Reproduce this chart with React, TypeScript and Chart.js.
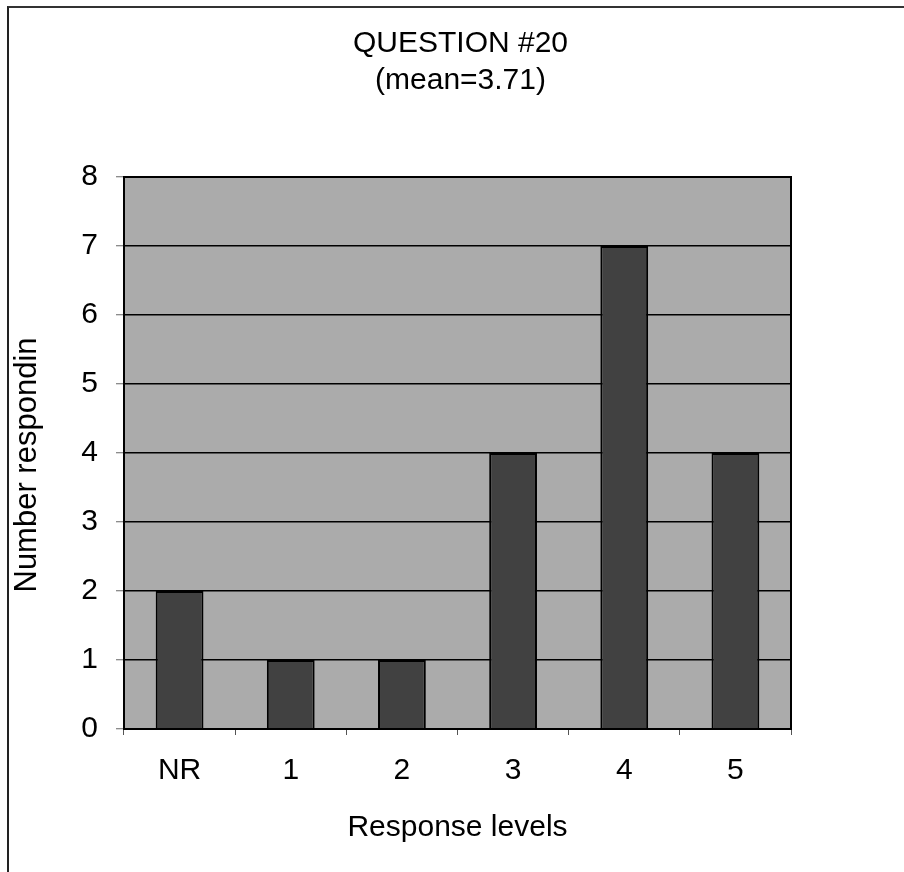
import React, { useEffect, useRef } from "react";
import { Chart, registerables } from "chart.js";

Chart.register(...registerables);

const titleLines = ["QUESTION #20", "(mean=3.71)"];
const categories = ["NR", "1", "2", "3", "4", "5"];
const counts = [2, 1, 1, 4, 7, 4];
const yMin = 0;
const yMax = 8;
const yStep = 1;
const xTitle = "Response levels";
const yTitle = "Number respondin";

const FONT = "Arial, 'Liberation Sans', sans-serif";
const FS = 30;
const PLOT_BG = "#ababab";
const BAR_FILL = "#414141";

const plotDecor = {
  id: "plotDecor",
  beforeDraw(chart: any) {
    const { ctx, chartArea } = chart;
    if (!chartArea) return;
    ctx.save();
    ctx.fillStyle = PLOT_BG;
    ctx.fillRect(chartArea.left, chartArea.top, chartArea.right - chartArea.left, chartArea.bottom - chartArea.top);
    ctx.restore();
  },
  afterDraw(chart: any) {
    const { ctx, chartArea } = chart;
    if (!chartArea) return;
    ctx.save();
    ctx.strokeStyle = "#000";
    ctx.lineWidth = 2;
    ctx.strokeRect(chartArea.left, chartArea.top, chartArea.right - chartArea.left, chartArea.bottom - chartArea.top);
    // chart title, centred over the plot area
    const cx = (chartArea.left + chartArea.right) / 2;
    ctx.fillStyle = "#000";
    ctx.font = `${FS}px ${FONT}`;
    ctx.textAlign = "center";
    ctx.textBaseline = "middle";
    titleLines.forEach((line, i) => {
      ctx.fillText(line, cx + 3, 44 + i * 37);
    });
    // y axis title
    ctx.save();
    ctx.translate(27, (chartArea.top + chartArea.bottom) / 2 + 12);
    ctx.rotate(-Math.PI / 2);
    ctx.font = `${FS + 1}px ${FONT}`;
    ctx.fillText(yTitle, 0, 0);
    ctx.restore();
    ctx.restore();
  },
};

export default function App() {
  const ref = useRef<HTMLCanvasElement | null>(null);

  useEffect(() => {
    if (!ref.current) return;
    const chart = new Chart(ref.current, {
      type: "bar",
      data: {
        labels: categories,
        datasets: [
          {
            data: counts,
            backgroundColor: BAR_FILL,
            borderColor: "#000",
            borderWidth: 2,
            categoryPercentage: 1,
            barPercentage: 0.43,
          },
        ],
      },
      options: {
        animation: false,
        responsive: false,
        maintainAspectRatio: false,
        layout: { padding: { left: 0, right: 113, top: 177, bottom: 26 } },
        plugins: {
          legend: { display: false },
          tooltip: { enabled: false },
          title: { display: false },
        },
        scales: {
          x: {
            grid: {
              display: true,
              offset: true,
              drawOnChartArea: false,
              drawTicks: true,
              tickLength: 6,
              color: "#555",
            },
            border: { display: true, color: "#000", width: 2 },
            ticks: { color: "#000", padding: 18, font: { family: FONT, size: FS } },
            title: {
              display: true,
              text: xTitle,
              color: "#000",
              font: { family: FONT, size: FS },
              padding: { top: 0, bottom: 0 },
            },
            afterFit(scale: any) {
              scale.height = 872 - 26 - 729;
            },
          },
          y: {
            min: yMin,
            max: yMax,
            ticks: { stepSize: yStep, color: "#000", padding: 18, font: { family: FONT, size: FS } },
            grid: {
              color: "#000",
              lineWidth: 1.5,
              drawTicks: true,
              tickLength: 8,
              tickColor: "#666",
              tickWidth: 1,
            },
            border: { display: true, color: "#000", width: 2 },
            title: { display: false },
            afterFit(scale: any) {
              scale.width = 124;
            },
          },
        },
      },
      plugins: [plotDecor],
    });
    return () => chart.destroy();
  }, []);

  return (
    <div style={{ position: "absolute", left: 0, top: 0, width: 904, height: 872, background: "#fff", overflow: "hidden" }}>
      <canvas ref={ref} width={904} height={872} style={{ position: "absolute", left: 0, top: 0, width: 904, height: 872 }} />
      <div
        style={{
          position: "absolute",
          left: 7,
          top: 6,
          width: 895,
          height: 880,
          borderLeft: "2px solid #222",
          borderTop: "2px solid #333",
          borderRight: "1px solid #bbb",
          pointerEvents: "none",
        }}
      />
    </div>
  );
}
